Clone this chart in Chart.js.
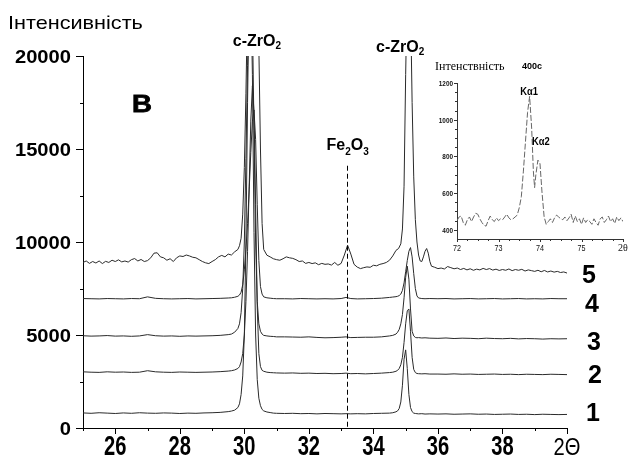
<!DOCTYPE html>
<html><head><meta charset="utf-8">
<script src="https://cdn.jsdelivr.net/npm/chart.js@4"></script>
<style>
html,body{margin:0;padding:0;background:#fff;}
#wrap{position:relative;width:629px;height:458px;overflow:hidden;}
#main{position:absolute;left:0;top:0;}
#inset{position:absolute;left:400px;top:50px;}
</style></head><body>
<div id="wrap"><canvas id="main" width="629" height="458"></canvas><canvas id="inset" width="229" height="208"></canvas></div>
<script>
// ---------- main pattern: 2Θ grid for samples 1-4 ----------
const xs14 = [25,25.25,25.5,25.75,26,26.25,26.5,26.75,27,27.25,27.5,27.75,28,28.25,28.5,28.75,29,29.25,29.5,
29.6,29.7,29.8,29.85,29.9,29.95,30,30.05,30.1,30.15,30.2,30.25,30.3,30.35,30.4,30.45,30.5,30.55,30.6,30.7,30.8,30.9,31,
31.25,31.5,31.75,32,32.25,32.5,32.75,33,33.15,33.3,33.5,33.75,34,34.25,34.5,
34.6,34.7,34.75,34.8,34.85,34.9,34.95,35,35.05,35.1,35.15,35.2,35.25,35.3,35.35,35.4,35.5,35.6,35.75,
36,36.25,36.5,36.75,37,37.25,37.5,37.75,38,38.25,38.5,38.75,39,39.25,39.5,39.75,40];
const sample1 = [810,790,820,800,780,810,790,820,800,790,810,800,780,800,790,810,820,840,880,
910,960,1100,1300,1800,2800,5000,10000,17500,23500,24000,19000,10500,5000,2600,1600,1200,1000,920,860,830,800,790,
780,790,770,780,760,780,770,760,770,760,770,760,780,790,800,
820,870,920,1050,1400,2300,3700,4200,3200,1800,1100,880,800,780,770,760,770,750,760,
750,760,740,750,760,740,750,730,740,750,730,740,720,740,730,720,730];
const sample2 = [3020,3000,2990,3020,3000,3010,2990,3000,3080,3020,3000,2990,3010,3000,2990,3000,3010,3030,3060,
3080,3120,3200,3300,3550,4000,5000,6800,9500,13000,16500,18400,17000,12000,6500,4000,3300,3100,3050,3000,2980,2970,2960,
2950,2960,2940,2950,2930,2940,2920,2930,2950,2920,2930,2910,2930,2950,2980,
3000,3050,3100,3200,3400,3800,4600,5600,6300,6400,5200,3800,3150,2980,2930,2920,2910,2920,2900,
2900,2890,2910,2890,2900,2880,2890,2900,2880,2890,2870,2890,2880,2870,2890,2880,2870];
const sample3 = [4960,4940,4950,4970,4940,4950,4930,4950,5020,4960,4940,4950,4930,4950,4940,4950,4960,4980,5020,
5050,5150,5350,5600,6200,7500,10000,14500,19500,23000,24500,22000,16000,10000,6800,5600,5200,5050,4980,4950,4930,4920,4900,
4900,4890,4880,4900,4870,4850,4860,4880,4900,4860,4870,4880,4880,4900,4950,
4980,5050,5150,5300,5600,6100,7000,8100,8700,8000,6400,5200,4950,4870,4850,4860,4840,4850,4830,
4820,4840,4810,4830,4820,4800,4830,4810,4800,4820,4790,4810,4800,4780,4800,4790,4800];
const sample4 = [6960,6950,6940,6960,6950,6940,6960,6950,7050,6970,6950,6940,6950,6960,6940,6950,6960,6970,6990,
7000,7030,7080,7150,7300,7700,8500,9600,11000,12800,14800,16500,17100,15500,12000,9000,7600,7200,7050,7000,6980,6960,6950,
6950,6940,6960,6950,6940,6950,6940,6960,7020,6960,6940,6950,6960,6980,7020,
7040,7060,7080,7120,7200,7400,7800,8400,9000,9500,9700,9200,8300,7500,7100,6990,6960,6950,6960,
6950,6960,6940,6950,6960,6940,6950,6960,6940,6950,6960,6940,6950,6940,6960,6950,6950];

// ---------- sample 5 (own grid) ----------
const xs5 = [25,25.1,25.2,25.3,25.4,25.5,25.6,25.7,25.8,25.9,
26,26.1,26.2,26.3,26.4,26.5,26.6,26.7,26.8,26.9,
27,27.1,27.2,27.3,27.4,27.5,27.6,27.7,27.8,27.9,
28,28.1,28.2,28.3,28.4,28.5,28.6,28.7,28.8,28.9,
29,29.1,29.2,29.3,29.4,29.5,29.6,29.7,29.8,
29.85,29.9,29.95,30,30.05,30.1,30.15,30.2,30.25,30.3,30.35,30.4,30.45,30.5,30.55,30.6,
30.7,30.8,30.9,31,31.1,31.2,31.3,31.4,31.5,31.6,31.7,31.8,31.9,
32,32.1,32.2,32.3,32.4,32.5,32.6,32.7,32.8,32.9,
33,33.1,33.2,33.3,33.4,33.5,33.6,33.7,33.8,33.9,
34,34.1,34.2,34.3,34.4,34.5,34.6,34.7,
34.78,34.85,34.9,34.95,35,35.05,35.1,35.15,35.2,35.25,35.3,35.35,35.4,35.45,35.5,35.55,35.6,35.65,35.7,35.75,35.8,
35.9,36,36.1,36.2,36.3,36.4,36.5,36.6,36.7,36.8,36.9,
37,37.1,37.2,37.3,37.4,37.5,37.6,37.7,37.8,37.9,
38,38.1,38.2,38.3,38.4,38.5,38.6,38.7,38.8,38.9,
39,39.1,39.2,39.3,39.4,39.5,39.6,39.7,39.8,39.9,40];
const sample5 = [8900,8980,8850,8950,8870,8980,8840,8960,8900,9020,
8950,9040,8930,8980,8920,9050,9110,8980,9060,8950,
9000,9150,9400,9420,9200,9150,9020,9100,8950,9150,
9250,9220,9300,9250,9180,9150,9050,8950,8880,8840,
8950,9050,9200,9280,9200,9350,9300,9470,9600,
9800,10200,11500,14000,18000,23000,27000,29000,29000,28500,27000,24000,20500,15000,11000,9600,
9290,9200,9100,9050,9020,9100,9200,9150,9120,9050,8950,8980,8850,
8900,8840,8880,8780,8850,8800,8820,8760,8900,8750,
8850,9300,9830,9350,8800,8650,8570,8620,8660,8640,
8750,8720,8800,8840,8900,9020,9250,9550,
9650,9900,10700,13000,19000,24000,26000,23000,17500,13500,11200,10000,9300,8980,8950,9200,9500,9650,9400,8950,8700,
8640,8570,8600,8550,8680,8620,8560,8600,8520,8580,8500,
8560,8480,8540,8500,8580,8520,8570,8490,8540,8470,
8520,8480,8550,8460,8520,8480,8530,8440,8500,8460,
8420,8480,8400,8470,8390,8440,8380,8420,8360,8390,8330];

// ---------- axes ----------
const xTickVals = [26,28,30,32,34,36,38,40];
const xTickLabels = ['26','28','30','32','34','36','38','2\u0398'];
const yTickVals = [0,5000,10000,15000,20000];
const sampleLabels = ['1','2','3','4','5'];
const fe2o3X = 33.18;
const fe2o3Top = 14100;

// ---------- inset: 400c reflection ----------
const xsInset = [72,72.05,72.1,72.15,72.2,72.25,72.3,72.35,72.4,72.45,72.5,72.55,72.6,72.65,72.7,72.75,72.8,72.85,72.9,72.95,73,73.05,73.1,73.15,73.2,73.25,73.3,73.35,73.4,
73.45,73.5,73.55,73.6,73.65,73.7,73.75,73.8,73.84,73.87,73.9,73.95,74,74.05,74.1,74.15,
74.2,74.25,74.3,74.35,74.4,74.45,74.5,74.55,74.6,74.65,74.7,74.75,74.8,74.85,74.9,74.95,75,75.05,75.1,75.15,75.2,75.25,75.3,75.35,75.4,75.45,75.5,75.55,75.6,75.65,75.7,75.75,75.8,75.85,75.9,75.95,76];
const ysInset = [450,470,475,440,425,455,470,445,470,490,485,460,440,425,420,450,475,455,445,465,450,460,455,470,485,465,455,460,470,
480,520,580,720,880,1040,1127,950,720,630,700,780,760,600,470,430,
445,460,440,465,480,470,460,455,470,450,465,485,440,475,445,460,430,465,440,455,445,430,460,440,425,460,470,440,455,475,445,460,435,470,450,465,445];
const insetXTicks = [72,73,74,75,76];
const insetXLabels = ['72','73','74','75','2\u03b8'];
const insetYTicks = [400,600,800,1000,1200];

const SANS = '"Liberation Sans", Arial, sans-serif';
const SERIF = '"Liberation Serif", "Times New Roman", serif';

function pts(xs, ys){ return xs.map((x,i)=>({x:x, y:ys[i]})); }
function lineDs(xs, ys){
  return {data: pts(xs, ys), borderColor:'#2a2a2a', borderWidth:1, pointRadius:0, tension:0, fill:false};
}
// text with horizontal scaling (the original uses condensed / widened faces)
function sText(ctx, text, x, base, font, sx, align){
  ctx.save(); ctx.font = font; ctx.translate(x, base); ctx.scale(sx, 1);
  ctx.textAlign = align; ctx.textBaseline = 'alphabetic'; ctx.fillText(text, 0, 0); ctx.restore();
}
function chem(ctx, parts, cx, base, size, subSize, drop){
  let w = 0;
  parts.forEach(p=>{ ctx.font = 'bold '+(p[1]?subSize:size)+'px '+SANS; w += ctx.measureText(p[0]).width; });
  let xx = cx - w/2;
  ctx.textAlign = 'left'; ctx.textBaseline = 'alphabetic';
  parts.forEach(p=>{ ctx.font = 'bold '+(p[1]?subSize:size)+'px '+SANS; ctx.fillText(p[0], xx, base + (p[1]?drop:0)); xx += ctx.measureText(p[0]).width; });
}

const mainDecor = {
  id:'mainDecor',
  afterDraw(chart){
    const ctx = chart.ctx, x = chart.scales.x, y = chart.scales.y, ca = chart.chartArea;
    ctx.save();
    ctx.strokeStyle = '#000'; ctx.lineWidth = 1;
    // x tick marks
    for (let v = 25; v <= 40; v++) {
      const px = Math.round(x.getPixelForValue(v)) + 0.5;
      const len = (v % 2 === 0) ? 6 : 3;
      ctx.beginPath(); ctx.moveTo(px, ca.bottom); ctx.lineTo(px, ca.bottom + len); ctx.stroke();
    }
    // y tick marks
    for (let v = 0; v <= 20000; v += 2500) {
      const py = Math.round(y.getPixelForValue(v)) + 0.5;
      const len = (v % 5000 === 0) ? 7 : 3;
      ctx.beginPath(); ctx.moveTo(ca.left - len, py); ctx.lineTo(ca.left, py); ctx.stroke();
    }
    ctx.fillStyle = '#000';
    // x tick labels (condensed bold digits, regular 2Θ)
    xTickVals.forEach((v,i)=>{
      const px = x.getPixelForValue(v);
      if (v === 40) sText(ctx, xTickLabels[i], px, 455, '24px '+SANS, 0.84, 'center');
      else sText(ctx, xTickLabels[i], px, 455, 'bold 28px '+SANS, 0.72, 'center');
    });
    // y tick labels
    yTickVals.forEach(v=>{
      sText(ctx, String(v), 71, y.getPixelForValue(v) + 6.5, 'bold 18px '+SANS, 1.12, 'right');
    });
    // Fe2O3 dashed marker
    const fx = Math.round(x.getPixelForValue(fe2o3X)) + 0.5;
    ctx.setLineDash([5,3]);
    ctx.beginPath(); ctx.moveTo(fx, y.getPixelForValue(fe2o3Top)); ctx.lineTo(fx, ca.bottom); ctx.stroke();
    ctx.setLineDash([]);
    // title
    sText(ctx, '\u0406\u043d\u0442\u0435\u043d\u0441\u0438\u0432\u043d\u0456\u0441\u0442\u044c', 8, 29, '19px '+SANS, 1.14, 'left');
    // panel letter
    ctx.save(); ctx.translate(142, 112); ctx.scale(1.15, 1);
    ctx.font = 'bold 24px ' + SANS; ctx.textAlign = 'center'; ctx.textBaseline = 'alphabetic';
    ctx.lineWidth = 0.8; ctx.strokeStyle = '#000';
    ctx.fillText('\u0412', 0, 0); ctx.strokeText('\u0412', 0, 0);
    ctx.restore();
    // phase labels
    chem(ctx, [['c-ZrO',0],['2',1]], x.getPixelForValue(30.39), 46, 16, 10, 3);
    chem(ctx, [['c-ZrO',0],['2',1]], x.getPixelForValue(34.83), 52, 16, 10, 3);
    chem(ctx, [['Fe',0],['2',1],['O',0],['3',1]], x.getPixelForValue(33.2), 150, 16, 10, 5);
    // sample numbers
    const nx = [593, 595, 594, 592, 589];
    const nb = [421, 383, 350, 312, 283];
    ctx.font = 'bold 25px ' + SANS; ctx.textAlign = 'center'; ctx.textBaseline = 'alphabetic';
    sampleLabels.forEach((s,i)=> ctx.fillText(s, nx[i], nb[i]));
    ctx.restore();
  }
};

new Chart(document.getElementById('main'), {
  type:'line',
  data:{ datasets:[ lineDs(xs14, sample1), lineDs(xs14, sample2), lineDs(xs14, sample3), lineDs(xs14, sample4), lineDs(xs5, sample5) ] },
  options:{
    responsive:false, animation:false, events:[],
    layout:{padding:{left:0, top:56, right:62, bottom:0}},
    plugins:{legend:{display:false}, tooltip:{enabled:false}},
    scales:{
      x:{ type:'linear', min:25, max:40,
          afterFit(s){ s.height = 30; },
          afterBuildTicks(s){ s.ticks = xTickVals.map(v=>({value:v})); },
          grid:{display:false, drawTicks:false},
          border:{display:true, color:'#000', width:1},
          ticks:{ display:false } },
      y:{ type:'linear', min:0, max:20000,
          afterFit(s){ s.width = 83; },
          afterBuildTicks(s){ s.ticks = yTickVals.map(v=>({value:v})); },
          grid:{display:false, drawTicks:false},
          border:{display:true, color:'#000', width:1},
          ticks:{ display:false } }
    }
  },
  plugins:[mainDecor]
});

const insetDecor = {
  id:'insetDecor',
  afterDraw(chart){
    const ctx = chart.ctx, x = chart.scales.x, y = chart.scales.y, ca = chart.chartArea;
    ctx.save();
    ctx.strokeStyle = '#333'; ctx.lineWidth = 1;
    for (let v = 72; v <= 76.001; v += 0.25) {
      const px = Math.round(x.getPixelForValue(v)) + 0.5;
      const major = Math.abs(v - Math.round(v)) < 1e-6;
      ctx.beginPath(); ctx.moveTo(px, ca.bottom); ctx.lineTo(px, ca.bottom + (major ? 3 : 2)); ctx.stroke();
    }
    for (let v = 400; v <= 1200; v += 50) {
      const py = Math.round(y.getPixelForValue(v)) + 0.5;
      const major = v % 200 === 0;
      ctx.beginPath(); ctx.moveTo(ca.left - (major ? 3 : 2), py); ctx.lineTo(ca.left, py); ctx.stroke();
    }
    ctx.fillStyle = '#111';
    insetXTicks.forEach((v,i)=>{
      const px = x.getPixelForValue(v);
      if (v === 76) sText(ctx, insetXLabels[i], px, ca.bottom + 12, '10px '+SERIF, 1, 'center');
      else sText(ctx, insetXLabels[i], px, ca.bottom + 12, '9px '+SANS, 0.8, 'center');
    });
    insetYTicks.forEach(v=>{
      sText(ctx, String(v), ca.left - 4, y.getPixelForValue(v) + 3, 'bold 8px '+SANS, 0.8, 'right');
    });
    ctx.fillStyle = '#000';
    sText(ctx, '\u0406\u043d\u0442\u0435\u043d\u0441\u0442\u0432\u043d\u0456\u0441\u0442\u044c', 35, 20, '12px '+SERIF, 1, 'left');
    sText(ctx, '400c', 132, 19, 'bold 9px '+SANS, 1, 'center');
    sText(ctx, 'K\u03b11', x.getPixelForValue(73.74), 45, 'bold 11px '+SANS, 0.85, 'center');
    sText(ctx, 'K\u03b12', x.getPixelForValue(74.02), 95, 'bold 11px '+SANS, 0.85, 'center');
    ctx.restore();
  }
};

new Chart(document.getElementById('inset'), {
  type:'line',
  data:{ datasets:[{ data: pts(xsInset, ysInset), borderColor:'#666', borderWidth:1, borderDash:[6,2], pointRadius:0, tension:0, fill:false }] },
  options:{
    responsive:false, animation:false, events:[],
    layout:{padding:{left:0, top:33, right:6, bottom:0}},
    plugins:{legend:{display:false}, tooltip:{enabled:false}},
    scales:{
      x:{ type:'linear', min:72, max:76,
          afterFit(s){ s.height = 19; },
          afterBuildTicks(s){ s.ticks = insetXTicks.map(v=>({value:v})); },
          grid:{display:false, drawTicks:false},
          border:{display:true, color:'#333', width:1},
          ticks:{ display:false } },
      y:{ type:'linear', min:350, max:1200,
          afterFit(s){ s.width = 57; },
          afterBuildTicks(s){ s.ticks = insetYTicks.map(v=>({value:v})); },
          grid:{display:false, drawTicks:false},
          border:{display:true, color:'#333', width:1},
          ticks:{ display:false } }
    }
  },
  plugins:[insetDecor]
});
</script>
</body></html>
